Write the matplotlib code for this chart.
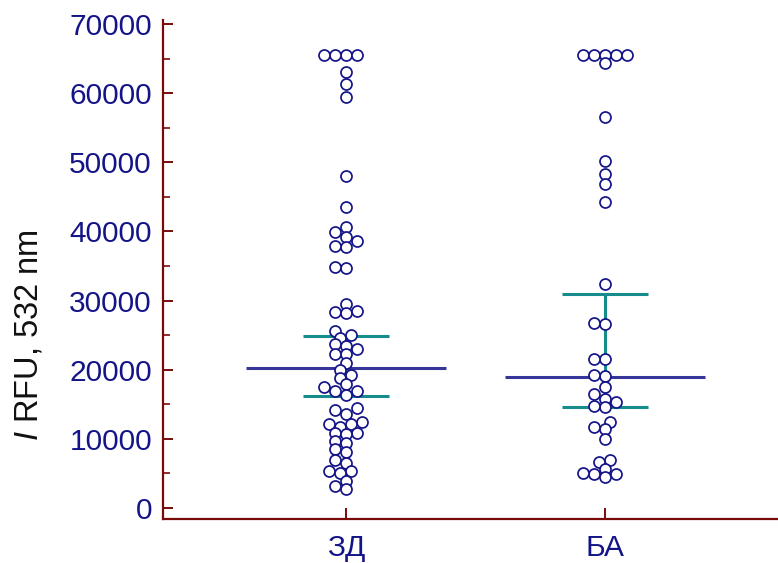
import numpy as np
import matplotlib
matplotlib.use("Agg")
import matplotlib.pyplot as plt
from matplotlib.ticker import MultipleLocator

plt.rcParams["font.family"] = ["Liberation Sans", "DejaVu Sans"]
plt.rcParams["mathtext.fontset"] = "custom"
plt.rcParams["mathtext.rm"] = "Liberation Sans"
plt.rcParams["mathtext.it"] = "Liberation Sans:italic"

# Data (fluorescence, RFU)
groups = ["ЗД", "БА"]
zd_values = [
    65535, 65535, 65535, 65535, 63000, 61300, 59400,
    48000, 43600,
    40700, 39900, 39150, 38600, 37800, 37900,
    34700, 34900,
    29500, 28400, 28250, 28500,
    25650, 25000, 24550, 23650, 23450, 22950, 22250, 22250,
    20950, 19950, 19250, 18750, 17900, 17450, 16850, 16900, 16350,
    14400, 14150, 13600, 12450, 12150, 12150, 11750, 10900, 10800, 10700,
    9750, 9350, 8550, 8150, 6950, 6450, 5400, 5400, 5000, 3900, 3150, 2700,
]
ba_values = [
    65535, 65535, 65535, 65535, 65535, 64300,
    56600,
    50200, 48300, 46900, 44300,
    32350,
    26650, 26800, 21600, 21600, 19050, 19300,
    17550, 16550, 15800, 15350, 14550, 14800,
    12450, 11450, 11650, 9950,
    7000, 6650, 5650, 4450, 4850, 4950, 5050,
]
medians = [20250, 18950]
ci_low = [16200, 14650]
ci_high = [24900, 30900]

navy = "#141488"
dark_red = "#7a0a0a"
teal = "#178c8c"
line_blue = "#36369a"

fig = plt.figure(figsize=(7.78, 5.63), dpi=100)
ax = fig.add_axes([0.2095, 0.0782, 0.7905, 0.8863])
ax.set_xlim(-0.7066, 1.668)
ax.set_ylim(-1590, 70580)

# median lines and confidence intervals
for i in range(len(groups)):
    ax.vlines(i, ci_low[i], ci_high[i], color=teal, lw=2.2, zorder=2)
    ax.hlines([ci_low[i], ci_high[i]], i - 0.166, i + 0.166, color=teal, lw=2.2, zorder=2)
    ax.hlines(medians[i], i - 0.386, i + 0.386, color=line_blue, lw=2.2, zorder=2)


def swarm(values, center, d_px, min_px):
    # simple beeswarm in pixel space, half-diameter grid steps
    trans = ax.transData
    vals = np.asarray(values, dtype=float)
    ypx = trans.transform(np.column_stack([np.full(len(vals), center), vals]))[:, 1]
    cx = trans.transform((center, 0))[0]
    step = d_px / 2
    cands = [0]
    for j in range(1, 30):
        cands += [-j, j]
    placed = []
    xs = np.zeros(len(vals))
    for i in np.argsort(vals):
        y = ypx[i]
        for c in cands:
            x = cx + c * step
            if all((x - px) ** 2 + (y - py) ** 2 >= min_px ** 2 for px, py in placed):
                break
        placed.append((x, y))
        xs[i] = trans.inverted().transform((x, y))[0]
    return xs


d = 11
for i, vals in enumerate([zd_values, ba_values]):
    xs = swarm(vals, i, d, 0.72 * d)
    ax.scatter(xs, vals, s=(d * 0.72) ** 2, facecolor="white", edgecolor=navy,
               linewidth=1.25, zorder=3)

for side in ["top", "right"]:
    ax.spines[side].set_visible(False)
for side in ["left", "bottom"]:
    ax.spines[side].set_color(dark_red)
    ax.spines[side].set_linewidth(1.6)

ax.yaxis.set_major_locator(MultipleLocator(10000))
ax.yaxis.set_minor_locator(MultipleLocator(5000))
ax.set_xticks(range(len(groups)))
ax.set_xticklabels(groups)
ax.tick_params(axis="y", which="major", direction="in", length=7, width=1.4,
               color=dark_red, labelcolor=navy, labelsize=21.5, pad=8)
ax.tick_params(axis="y", which="minor", direction="in", length=5, width=1.2, color=dark_red)
ax.tick_params(axis="x", which="major", direction="in", length=8, width=1.4,
               color=dark_red, labelcolor=navy, labelsize=21.5, pad=11)

ax.set_ylabel(r"$\it{I}$ RFU, 532 nm", fontsize=23.5, color="#111111")
ax.yaxis.set_label_coords(-0.193, 0.368)

fig.savefig("out.png", dpi=100)
